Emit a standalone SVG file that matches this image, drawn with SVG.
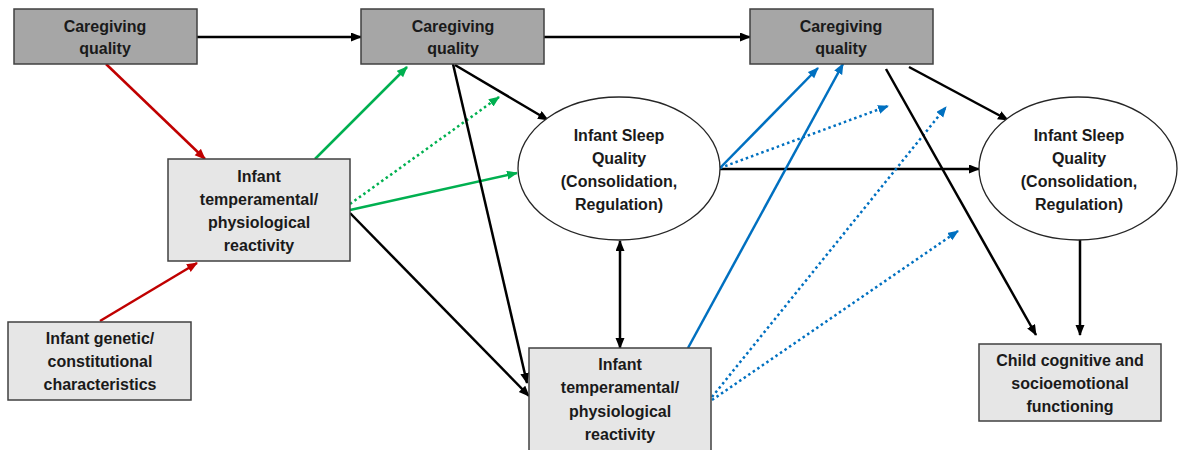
<svg xmlns="http://www.w3.org/2000/svg" width="1179" height="450" viewBox="0 0 1179 450">
<style>
.dark{fill:#a6a6a6;stroke:#404040;stroke-width:1.5}
.light{fill:#e6e6e6;stroke:#404040;stroke-width:1.5}
.ell{fill:#ffffff;stroke:#262626;stroke-width:1.3}
text{font-family:"Liberation Sans",Arial,sans-serif;font-weight:bold;font-size:16px;fill:#1a1a1a;text-anchor:middle}
.k{stroke:#000;stroke-width:2.5;fill:none}
.r{stroke:#c00000;stroke-width:2.5;fill:none}
.g{stroke:#00b050;stroke-width:2.5;fill:none}
.b{stroke:#0070c0;stroke-width:2.5;fill:none}
.dot{stroke-dasharray:2.5 3}
</style>
<defs>
<marker id="ak" markerUnits="userSpaceOnUse" markerWidth="12" markerHeight="10" refX="10" refY="4.5" orient="auto-start-reverse"><path d="M0,0 L11,4.5 L0,9 z" fill="#000"/></marker>
<marker id="ar" markerUnits="userSpaceOnUse" markerWidth="12" markerHeight="10" refX="10" refY="4.5" orient="auto"><path d="M0,0 L11,4.5 L0,9 z" fill="#c00000"/></marker>
<marker id="ag" markerUnits="userSpaceOnUse" markerWidth="12" markerHeight="10" refX="10" refY="4.5" orient="auto"><path d="M0,0 L11,4.5 L0,9 z" fill="#00b050"/></marker>
<marker id="ab" markerUnits="userSpaceOnUse" markerWidth="12" markerHeight="10" refX="10" refY="4.5" orient="auto"><path d="M0,0 L11,4.5 L0,9 z" fill="#0070c0"/></marker>
</defs>
<rect width="1179" height="450" fill="#fff"/>
<g id="connectors">
<line class="k" x1="197" y1="37" x2="361" y2="37" marker-end="url(#ak)"/>
<line class="k" x1="544" y1="37" x2="750" y2="37" marker-end="url(#ak)"/>
<line class="r" x1="106" y1="64" x2="205" y2="159" marker-end="url(#ar)"/>
<line class="r" x1="100" y1="321" x2="197" y2="263" marker-end="url(#ar)"/>
<line class="g" x1="315" y1="159" x2="407" y2="67" marker-end="url(#ag)"/>
<line class="g dot" x1="350" y1="204" x2="499" y2="97" marker-end="url(#ag)"/>
<line class="g" x1="350" y1="210" x2="517" y2="173" marker-end="url(#ag)"/>
<line class="k" x1="350" y1="213" x2="529" y2="396" marker-end="url(#ak)"/>
<line class="k" x1="453" y1="64" x2="527" y2="383" marker-end="url(#ak)"/>
<line class="k" x1="455" y1="65" x2="548" y2="120" marker-end="url(#ak)"/>
<line class="k" x1="620" y1="241" x2="620" y2="348" marker-start="url(#ak)" marker-end="url(#ak)"/>
<line class="k" x1="720" y1="169" x2="979" y2="169" marker-end="url(#ak)"/>
<line class="b" x1="720" y1="168" x2="818" y2="68" marker-end="url(#ab)"/>
<line class="b dot" x1="720" y1="168" x2="888" y2="106" marker-end="url(#ab)"/>
<line class="b" x1="688" y1="348" x2="843" y2="64" marker-end="url(#ab)"/>
<line class="b dot" x1="712" y1="397" x2="946" y2="107" marker-end="url(#ab)"/>
<line class="b dot" x1="712" y1="400" x2="958" y2="231" marker-end="url(#ab)"/>
<line class="k" x1="909" y1="67" x2="1008" y2="120" marker-end="url(#ak)"/>
<line class="k" x1="886" y1="69" x2="1036" y2="335" marker-end="url(#ak)"/>
<line class="k" x1="1080" y1="240" x2="1080" y2="335" marker-end="url(#ak)"/>
</g>
<g id="care1"><rect class="dark" x="14" y="9" width="183" height="55"/><text x="105" y="32">Caregiving</text><text x="105" y="54">quality</text></g>
<g id="care2"><rect class="dark" x="361" y="9" width="183" height="55"/><text x="453" y="32">Caregiving</text><text x="453" y="54">quality</text></g>
<g id="care3"><rect class="dark" x="750" y="9" width="183" height="55"/><text x="841" y="32">Caregiving</text><text x="841" y="54">quality</text></g>
<g id="temp1"><rect class="light" x="168" y="159" width="182" height="102"/><text x="259" y="182">Infant</text><text x="259" y="205">temperamental/</text><text x="259" y="228">physiological</text><text x="259" y="251">reactivity</text></g>
<g id="genetic"><rect class="light" x="8" y="322" width="183" height="78"/><text x="100" y="344">Infant genetic/</text><text x="100" y="367">constitutional</text><text x="100" y="390">characteristics</text></g>
<g id="sleep1"><ellipse class="ell" cx="619" cy="168.5" rx="101" ry="71.5"/><text x="619" y="141">Infant Sleep</text><text x="619" y="164">Quality</text><text x="619" y="187">(Consolidation,</text><text x="619" y="210">Regulation)</text></g>
<g id="sleep2"><ellipse class="ell" cx="1078" cy="168.5" rx="99" ry="71.5"/><text x="1079" y="141">Infant Sleep</text><text x="1079" y="164">Quality</text><text x="1079" y="187">(Consolidation,</text><text x="1079" y="210">Regulation)</text></g>
<g id="temp2"><rect class="light" x="529" y="348" width="182" height="108"/><text x="620" y="370">Infant</text><text x="620" y="393">temperamental/</text><text x="620" y="417">physiological</text><text x="620" y="440">reactivity</text></g>
<g id="outcome"><rect class="light" x="979" y="344" width="182" height="77"/><text x="1070" y="366">Child cognitive and</text><text x="1070" y="389">socioemotional</text><text x="1070" y="412">functioning</text></g>
</svg>
